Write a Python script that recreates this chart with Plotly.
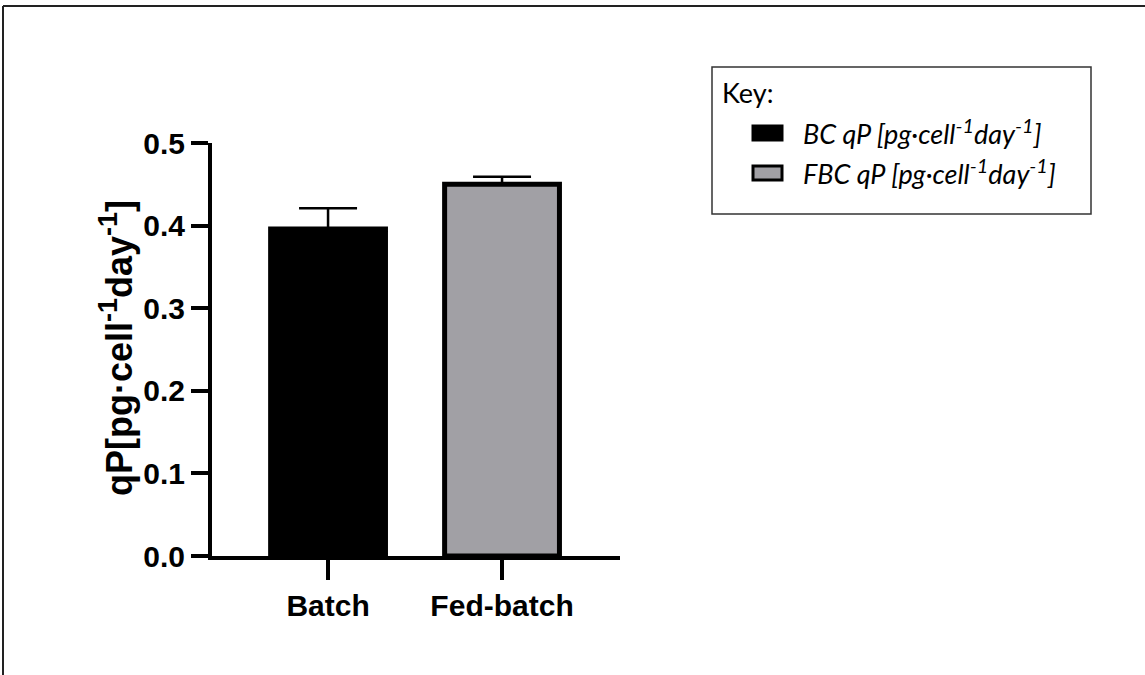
import plotly.graph_objects as go

# Specific productivity per culture mode
categories = ["Batch", "Fed-batch"]
qp_values = [0.396, 0.450]
qp_err_plus = [0.025, 0.009]
series_names = ["BC qP [pg·cell<sup>-1</sup>day<sup>-1</sup>]",
                "FBC qP [pg·cell<sup>-1</sup>day<sup>-1</sup>]"]
y_ticks = [0.0, 0.1, 0.2, 0.3, 0.4, 0.5]
y_tick_labels = ["0.0", "0.1", "0.2", "0.3", "0.4", "0.5"]

W, H = 1145, 675
L, R, T, B = 212, 620, 143, 556   # plot area in pixels

def px_x(x):
    return (x - L) / (R - L)

def px_y(y):
    return (B - y) / (B - T)

fill_colors = ["#000000", "#A1A0A5"]

fig = go.Figure()
fig.add_trace(go.Bar(
    x=categories,
    y=qp_values,
    width=0.66,
    marker=dict(color=fill_colors, line=dict(color="#000000", width=5)),
    error_y=dict(type="data", symmetric=False, array=qp_err_plus,
                 arrayminus=[0, 0], color="#000000", thickness=2.5, width=29),
    showlegend=False,
))

tick_font = dict(family="Liberation Sans, Arial", size=30, color="#000000", weight="bold")

fig.update_layout(
    width=W, height=H,
    margin=dict(l=L, r=W - R, t=T, b=H - B, pad=0),
    paper_bgcolor="white", plot_bgcolor="white",
    xaxis=dict(type="category", range=[-0.667, 1.678], showline=True,
               linecolor="#000000", linewidth=4, ticks="outside", ticklen=20,
               tickwidth=4, tickcolor="#000000", tickfont=tick_font,
               showgrid=False, zeroline=False, fixedrange=True),
    yaxis=dict(range=[0, 0.5], tickvals=y_ticks, ticktext=y_tick_labels,
               showline=True, linecolor="#000000", linewidth=4, ticks="outside",
               ticklen=17, tickwidth=4, tickcolor="#000000", tickfont=tick_font,
               showgrid=False, zeroline=False),
)

# y-axis title; exponents kept near full size
sup = "<sup><span style='font-size:27px'>-1</span></sup>"
fig.add_annotation(
    text="qP[pg·cell" + sup + "day" + sup + "]",
    xref="paper", yref="paper", x=px_x(116), y=px_y(348),
    textangle=-90, showarrow=False, xanchor="center", yanchor="middle",
    font=dict(family="Liberation Sans, Arial", size=36, color="#000000", weight="bold"),
)

shapes = []
# outer frame (top and left edges)
shapes.append(dict(type="line", xref="paper", yref="paper",
                   x0=px_x(3), x1=px_x(W), y0=px_y(6), y1=px_y(6),
                   line=dict(color="#222222", width=2)))
shapes.append(dict(type="line", xref="paper", yref="paper",
                   x0=px_x(3), x1=px_x(3), y0=px_y(6), y1=px_y(H),
                   line=dict(color="#222222", width=2)))

# key box
shapes.append(dict(type="rect", xref="paper", yref="paper",
                   x0=px_x(712), x1=px_x(1091), y0=px_y(214), y1=px_y(67),
                   line=dict(color="#333333", width=1.5), fillcolor="white"))

key_font = dict(family="Lato, Open Sans, sans-serif", size=27, color="#000000")
fig.add_annotation(text="Key:", xref="paper", yref="paper",
                   x=px_x(720), y=px_y(92), xanchor="left", yanchor="middle",
                   showarrow=False, font=key_font)

row_y = [133, 173]
for i, name in enumerate(series_names):
    cy = row_y[i]
    shapes.append(dict(type="rect", xref="paper", yref="paper",
                       x0=px_x(753), x1=px_x(782), y0=px_y(cy + 7), y1=px_y(cy - 7),
                       fillcolor=fill_colors[i],
                       line=dict(color="#000000", width=3)))
    label = name.replace("<sup>", "<sup><span style='font-size:20px'>").replace("</sup>", "</span></sup>")
    fig.add_annotation(text="<i>" + label + "</i>",
                       xref="paper", yref="paper",
                       x=px_x(801), y=px_y(cy - 1), xanchor="left", yanchor="middle",
                       showarrow=False, font=key_font)

fig.update_layout(shapes=shapes)

fig.write_html("out.html", config={"displayModeBar": False})
